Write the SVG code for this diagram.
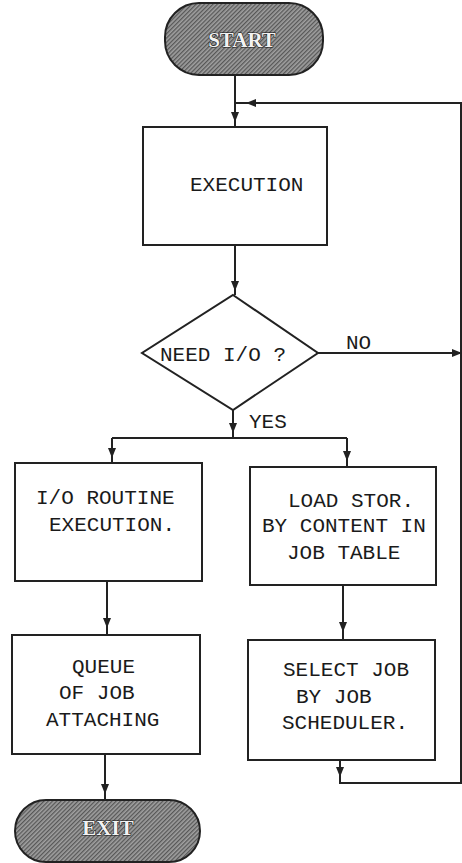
<svg xmlns="http://www.w3.org/2000/svg" width="462" height="863" viewBox="0 0 462 863">
<style>
.box{fill:#fff;stroke:#222;stroke-width:2}
.term{fill:url(#hatch);stroke:#222;stroke-width:2}
.t{font-family:"Liberation Mono","Courier New",monospace;font-size:21px;fill:#1a1a1a}
.tt{font-family:"Liberation Serif","Times New Roman",serif;font-size:21px;font-weight:bold;fill:#f2f2f2;stroke:#111;stroke-width:1.1;paint-order:stroke;text-anchor:middle}
.c{fill:none;stroke:#222;stroke-width:2}
.a{fill:none;stroke:#222;stroke-width:2;marker-end:url(#arr)}
</style>
<defs>
<pattern id="hatch" width="3" height="3" patternUnits="userSpaceOnUse" patternTransform="rotate(45)">
<rect width="3" height="3" fill="#a0a0a0"/>
<line x1="0.7" y1="0" x2="0.7" y2="3" stroke="#4a4a4a" stroke-width="1.1"/>
</pattern>
<marker id="arr" markerWidth="10" markerHeight="8" refX="9" refY="4" orient="auto" markerUnits="userSpaceOnUse">
<path d="M0,0 L10,4 L0,8 Z" fill="#222"/>
</marker>
</defs>
<g id="connectors">
<path class="a" d="M235,75 L235,121"/>
<path class="c" d="M235,118 L235,127"/>
<path class="a" d="M340,760 L340,776"/>
<path class="a" d="M340,773 L340,783 L461,783 L461,103 L247,103"/>
<path class="c" d="M250,103 L235,103"/>
<path class="a" d="M235,245 L235,290"/>
<path class="c" d="M235,287 L235,295"/>
<path class="a" d="M318,353 L461,353"/>
<path class="a" d="M233,410 L233,432"/>
<path class="c" d="M233,429 L233,438"/>
<path class="c" d="M112,438 L347,438"/>
<path class="a" d="M112,438 L112,457"/>
<path class="c" d="M112,454 L112,463"/>
<path class="a" d="M347,438 L347,460"/>
<path class="c" d="M347,457 L347,467"/>
<path class="a" d="M107,581 L107,627"/>
<path class="c" d="M107,624 L107,635"/>
<path class="a" d="M343,585 L343,631"/>
<path class="c" d="M343,628 L343,640"/>
<path class="a" d="M105,754 L105,793"/>
<path class="c" d="M105,790 L105,800"/>
</g>
<g id="start">
<rect class="term" x="165" y="3" width="158" height="72" rx="34" ry="34"/>
<text class="tt" x="242" y="47">START</text>
</g>
<g id="execution">
<rect class="box" x="143" y="127" width="184" height="118"/>
<text class="t" x="190" y="191">EXECUTION</text>
</g>
<g id="need-io">
<polygon class="box" points="233,295 318,353 233,410 142,353"/>
<text class="t" x="160" y="361">NEED I/O ?</text>
<text class="t" x="346" y="349">NO</text>
<text class="t" x="249" y="428">YES</text>
</g>
<g id="io-routine">
<rect class="box" x="15" y="463" width="187" height="118"/>
<text class="t" x="36" y="504">I/O ROUTINE</text>
<text class="t" x="49" y="531">EXECUTION.</text>
</g>
<g id="load-stor">
<rect class="box" x="250" y="467" width="186" height="118"/>
<text class="t" x="288" y="507">LOAD STOR.</text>
<text class="t" x="262" y="532">BY CONTENT IN</text>
<text class="t" x="287" y="559">JOB TABLE</text>
</g>
<g id="queue">
<rect class="box" x="12" y="635" width="188" height="119"/>
<text class="t" x="72" y="673">QUEUE</text>
<text class="t" x="59" y="699">OF JOB</text>
<text class="t" x="46" y="726">ATTACHING</text>
</g>
<g id="select-job">
<rect class="box" x="248" y="640" width="187" height="120"/>
<text class="t" x="283" y="676">SELECT JOB</text>
<text class="t" x="296" y="703">BY JOB</text>
<text class="t" x="282" y="729">SCHEDULER.</text>
</g>
<g id="exit">
<rect class="term" x="15" y="800" width="185" height="62" rx="31" ry="31"/>
<text class="tt" x="108" y="835">EXIT</text>
</g>
</svg>
